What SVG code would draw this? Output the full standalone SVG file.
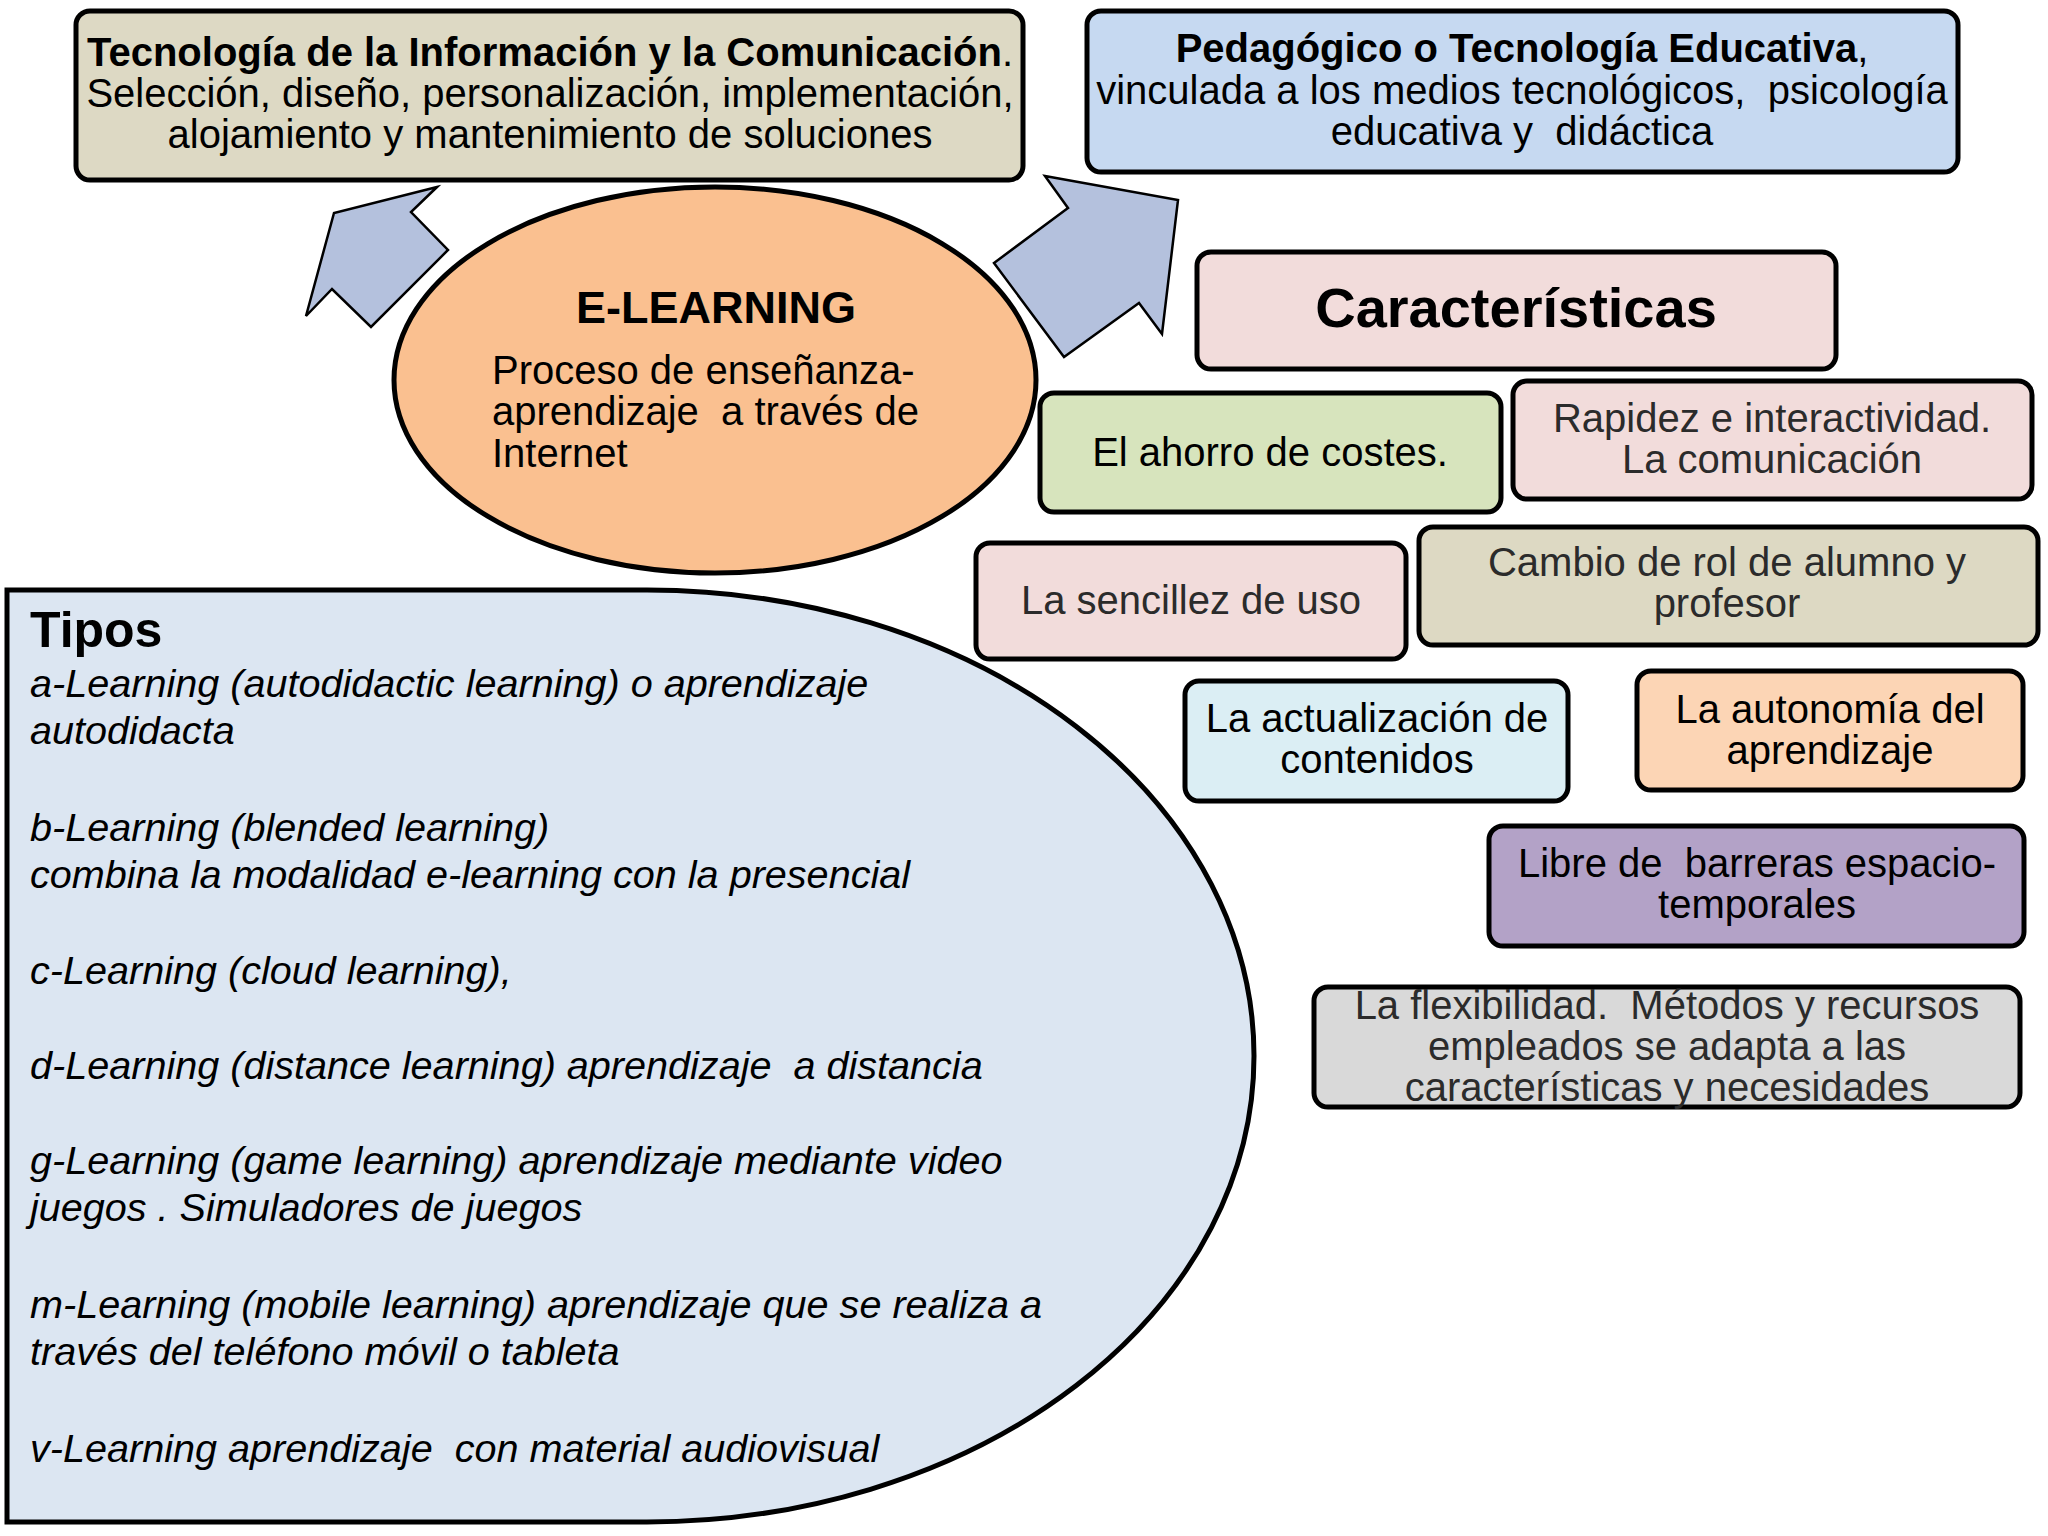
<svg xmlns="http://www.w3.org/2000/svg" width="2048" height="1536" viewBox="0 0 2048 1536">
<style>
.box{stroke:#000;stroke-width:5}
.t{font-family:"Liberation Sans",Arial,sans-serif;font-size:40px;fill:#000}
.c{text-anchor:middle}
.b{font-weight:bold}
.g{fill:#2b2b2b}
.i{font-style:italic;font-size:39.6px}
.arrow{fill:#b4c1dd;stroke:#000;stroke-width:2.5;stroke-linejoin:miter}
</style>
<rect width="2048" height="1536" fill="#fff"/>
<g id="connectors">
<polygon class="arrow" points="437,187 334,213 306,316 332,289 371,327 448,250 411,212"/>
<polygon class="arrow" points="1045,176 1178,200 1162,334 1139,303 1064,357 994,263 1068,208"/>
</g>
<g id="tic">
<rect class="box" x="76" y="11" width="947" height="169" rx="14" fill="#ddd9c4"/>
<text class="t c" x="550" y="66"><tspan class="b">Tecnología de la Información y la Comunicación</tspan>.</text>
<text class="t c" x="550" y="107">Selección, diseño, personalización, implementación,</text>
<text class="t c" x="550" y="148">alojamiento y mantenimiento de soluciones</text>
</g>
<g id="pedagogico">
<rect class="box" x="1087" y="11" width="871" height="161" rx="14" fill="#c6d9f1"/>
<text class="t c" x="1522" y="62"><tspan class="b">Pedagógico o Tecnología Educativa</tspan>,</text>
<text class="t c" x="1522" y="104" xml:space="preserve">vinculada a los medios tecnológicos,  psicología</text>
<text class="t c" x="1522" y="145" xml:space="preserve">educativa y  didáctica</text>
</g>
<g id="elearning">
<ellipse class="box" cx="715" cy="380" rx="321" ry="193" fill="#fac090"/>
<text class="t c b" x="716" y="323" style="font-size:45px">E-LEARNING</text>
<text class="t" x="492" y="384">Proceso de enseñanza-</text>
<text class="t" x="492" y="425" xml:space="preserve">aprendizaje  a través de</text>
<text class="t" x="492" y="467">Internet</text>
</g>
<g id="caracteristicas">
<rect class="box" x="1197" y="252" width="639" height="117" rx="14" fill="#f2dcdb"/>
<text class="t c b" x="1516" y="327" style="font-size:56px">Características</text>
</g>
<g id="ahorro">
<rect class="box" x="1040" y="393" width="461" height="119" rx="14" fill="#d7e4bd"/>
<text class="t c" x="1270" y="466">El ahorro de costes.</text>
</g>
<g id="rapidez">
<rect class="box" x="1513" y="381" width="519" height="118" rx="14" fill="#f2dcdb"/>
<text class="t c g" x="1772" y="432">Rapidez e interactividad.</text>
<text class="t c g" x="1772" y="473">La comunicación</text>
</g>
<g id="sencillez">
<rect class="box" x="976" y="543" width="430" height="116" rx="14" fill="#f2dcdb"/>
<text class="t c g" x="1191" y="614">La sencillez de uso</text>
</g>
<g id="cambio">
<rect class="box" x="1419" y="527" width="619" height="118" rx="14" fill="#ddd9c3"/>
<text class="t c g" x="1727" y="576">Cambio de rol de alumno y</text>
<text class="t c g" x="1727" y="617">profesor</text>
</g>
<g id="actualizacion">
<rect class="box" x="1185" y="681" width="383" height="120" rx="14" fill="#dbeef4"/>
<text class="t c" x="1377" y="732">La actualización de</text>
<text class="t c" x="1377" y="773">contenidos</text>
</g>
<g id="autonomia">
<rect class="box" x="1637" y="671" width="386" height="119" rx="14" fill="#fcd5b5"/>
<text class="t c" x="1830" y="723">La autonomía del</text>
<text class="t c" x="1830" y="764">aprendizaje</text>
</g>
<g id="libre">
<rect class="box" x="1489" y="826" width="535" height="120" rx="14" fill="#b3a2c7"/>
<text class="t c" x="1757" y="877" xml:space="preserve">Libre de  barreras espacio-</text>
<text class="t c" x="1757" y="918">temporales</text>
</g>
<g id="flexibilidad">
<rect class="box" x="1314" y="987" width="706" height="120" rx="14" fill="#d9d9d9"/>
<text class="t c g" x="1667" y="1019" xml:space="preserve">La flexibilidad.  Métodos y recursos</text>
<text class="t c g" x="1667" y="1060">empleados se adapta a las</text>
<text class="t c g" x="1667" y="1101">características y necesidades</text>
</g>
<g id="tipos">
<path class="box" d="M7,590 H647 A607,466 0 0 1 647,1522 H7 Z" fill="#dce6f2"/>
<text class="t b" x="30" y="647" style="font-size:50px">Tipos</text>
<text class="t i" x="30" y="697">a-Learning (autodidactic learning) o aprendizaje</text>
<text class="t i" x="30" y="744">autodidacta</text>
<text class="t i" x="30" y="841">b-Learning (blended learning)</text>
<text class="t i" x="30" y="888">combina la modalidad e-learning con la presencial</text>
<text class="t i" x="30" y="984">c-Learning (cloud learning),</text>
<text class="t i" x="30" y="1079" xml:space="preserve">d-Learning (distance learning) aprendizaje  a distancia</text>
<text class="t i" x="30" y="1174">g-Learning (game learning) aprendizaje mediante video</text>
<text class="t i" x="30" y="1221">juegos . Simuladores de juegos</text>
<text class="t i" x="30" y="1318">m-Learning (mobile learning) aprendizaje que se realiza a</text>
<text class="t i" x="30" y="1365">través del teléfono móvil o tableta</text>
<text class="t i" x="30" y="1462" xml:space="preserve">v-Learning aprendizaje  con material audiovisual</text>
</g>
</svg>
